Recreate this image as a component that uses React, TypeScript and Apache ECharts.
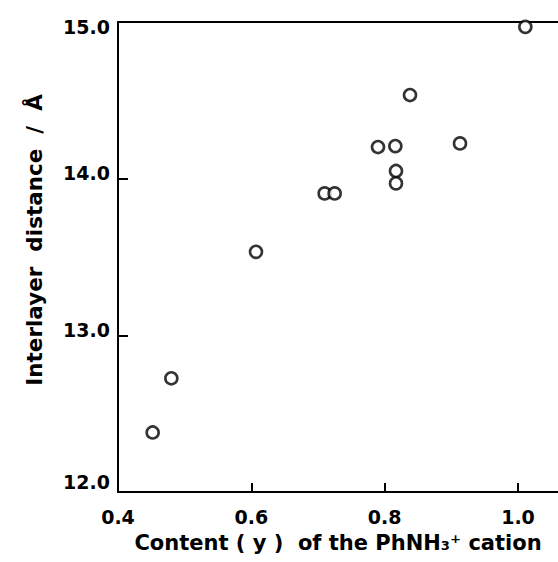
import React, { useEffect, useRef } from "react";
import * as echarts from "echarts";

const contentY = [0.452, 0.48, 0.607, 0.71, 0.725, 0.79, 0.816, 0.817, 0.817, 0.838, 0.913, 1.011];
const distance = [12.38, 12.726, 13.533, 13.906, 13.906, 14.202, 14.208, 14.049, 13.97, 14.534, 14.225, 14.969];
const xTicks = [0.4, 0.6, 0.8, 1.0];
const yTicks = [12.0, 13.0, 14.0, 15.0];
const xTitle = "Content ( y )  of the PhNH\u2083\u207A cation";
const yTitle = "Interlayer  distance  /  \u00C5";

const FONT = "DejaVu Sans";

export default function App() {
  const ref = useRef<HTMLDivElement>(null);
  useEffect(() => {
    if (!ref.current) return;
    const chart = echarts.init(ref.current, null, { renderer: "svg" });
    const points = contentY.map((x, i) => [x, distance[i]]);
    const isTick = (v: number, arr: number[]) => arr.some((t) => Math.abs(t - v) < 1e-6);
    const labelStyle = { color: "#000", fontFamily: FONT, fontWeight: "bold", fontSize: 19 };
    chart.setOption({
      animation: false,
      backgroundColor: "#ffffff",
      grid: { left: 118, top: 22, width: 443, height: 470, containLabel: false },
      xAxis: [
        {
          type: "value",
          min: 0.4,
          max: 1.06,
          interval: 0.2,
          position: "bottom",
          splitLine: { show: false },
          axisLine: { show: true, lineStyle: { color: "#000", width: 2 } },
          axisTick: { show: true, inside: true, length: 9, lineStyle: { color: "#000", width: 2 } },
          axisLabel: {
            show: true,
            margin: 15,
            ...labelStyle,
            showMaxLabel: false,
            formatter: (v: number) => (isTick(v, xTicks) ? v.toFixed(1) : ""),
          },
          name: xTitle,
          nameLocation: "middle",
          nameGap: 40,
          nameTextStyle: { color: "#000", fontFamily: FONT, fontWeight: "bold", fontSize: 21 },
        },
        {
          type: "value",
          min: 0.4,
          max: 1.06,
          position: "top",
          splitLine: { show: false },
          axisLine: { show: true, lineStyle: { color: "#000", width: 2 } },
          axisTick: { show: false },
          axisLabel: { show: false },
        },
      ],
      yAxis: {
        type: "value",
        min: 12,
        max: 15,
        interval: 1,
        splitLine: { show: false },
        axisLine: { show: true, lineStyle: { color: "#000", width: 2 } },
        axisTick: { show: true, inside: true, length: 10, lineStyle: { color: "#000", width: 2 } },
        axisLabel: {
          show: true,
          margin: 8,
          ...labelStyle,
          formatter: (v: number) => {
            if (!isTick(v, yTicks)) return "";
            const k = Math.round(v);
            return `{t${k}|${v.toFixed(1)}}`;
          },
          rich: {
            t12: { ...labelStyle, padding: [0, 0, 20, 0] },
            t13: { ...labelStyle, padding: [0, 0, 10, 0] },
            t14: { ...labelStyle, padding: [0, 0, 12, 0] },
            t15: { ...labelStyle, padding: [10, 0, 0, 0] },
          },
        },
      },
      graphic: [
        {
          type: "text",
          x: 34,
          y: 240,
          rotation: Math.PI / 2,
          style: {
            text: yTitle,
            fill: "#000",
            font: `bold 21.5px "${FONT}"`,
            align: "center",
            verticalAlign: "middle",
          },
        },
      ],
      series: [
        {
          type: "scatter",
          xAxisIndex: 0,
          data: points,
          symbol: "circle",
          symbolSize: 12,
          itemStyle: { color: "#fff", borderColor: "#000", borderWidth: 2.6 },
        },
      ],
    });
    return () => chart.dispose();
  }, []);
  return (
    <div
      ref={ref}
      style={{ position: "absolute", left: 0, top: 0, width: 558, height: 562, background: "#fff" }}
    />
  );
}
